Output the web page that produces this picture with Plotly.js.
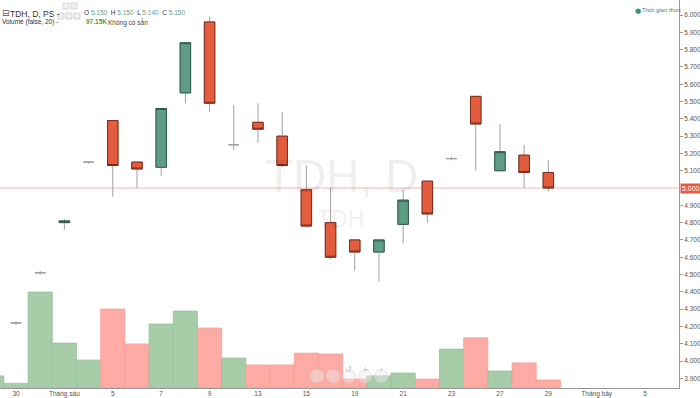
<!DOCTYPE html>
<html><head><meta charset="utf-8">
<script src="https://cdn.plot.ly/plotly-3.0.1.min.js"></script>
<style>html,body{margin:0;padding:0;background:#fff}#chart{width:700px;height:398px}</style>
</head><body><div id="chart"></div>
<script>
// ---- data ----
const tickPos  = [0, 2, 4, 6, 8, 10, 12, 14, 16, 18, 20, 22, 24, 26];
const tickText = ['30', 'Tháng sáu', '5', '7', '9', '13', '15', '19', '21', '23', '27', '29', 'Tháng bảy', '5'];
const barIndex = [-1, 0, 1, 2, 3, 4, 5, 6, 7, 8, 9, 10, 11, 12, 13, 14, 15, 16, 17, 18, 19, 20, 21, 22];
const openP  = [4.20, 4.22, 4.51, 4.80, 5.15, 5.39, 5.15, 5.12, 5.55, 5.96, 5.25, 5.38, 5.30, 4.99, 4.80, 4.70, 4.63, 4.79, 5.04, 5.17, 5.53, 5.10, 5.19, 5.09];
const highP  = [4.22, 4.23, 4.52, 4.82, 5.15, 5.39, 5.15, 5.46, 5.84, 5.99, 5.48, 5.49, 5.44, 5.13, 5.00, 4.70, 4.70, 4.99, 5.04, 5.18, 5.53, 5.37, 5.25, 5.16];
const lowP   = [4.18, 4.21, 4.50, 4.76, 5.14, 4.95, 5.00, 5.07, 5.49, 5.44, 5.22, 5.26, 5.12, 4.77, 4.59, 4.52, 4.46, 4.68, 4.80, 5.16, 5.10, 5.10, 5.00, 4.98];
const closeP = [4.21, 4.22, 4.51, 4.81, 5.15, 5.13, 5.11, 5.46, 5.84, 5.49, 5.25, 5.34, 5.13, 4.78, 4.60, 4.63, 4.70, 4.93, 4.85, 5.17, 5.37, 5.21, 5.09, 5.00];
const volumeK = [42, 16, 333, 156, 97.15, 274, 153, 222, 267, 208, 104, 80, 80, 121, 118, 31, 42, 52, 31, 135, 174, 59, 87, 28];
const hoverPos = 4; // array position of the bar shown in the legend

// ---- styles ----
const incFill = '#5f9c86', incBorder = '#2f5a4a';
const decFill = '#e35c3d', decBorder = '#7a2b1b';
const wickCol = '#a0a0a0';
const volInc = '#a6cca8', volDec = '#fdaba4';
const volIncLine = '#93bf96', volDecLine = '#f59b93';

const isUp = closeP.map((c, i) => c >= openP[i]);
const isDoji = closeP.map((c, i) => Math.abs(c - openP[i]) < 1e-9);
const bOpen  = openP.map((o, i) => isDoji[i] ? null : o);
const bClose = closeP.map((c, i) => isDoji[i] ? null : c);
const bodyHigh = openP.map((o, i) => isDoji[i] ? null : Math.max(o, closeP[i]));
const bodyLow  = openP.map((o, i) => isDoji[i] ? null : Math.min(o, closeP[i]));
const lastClose = closeP[closeP.length - 1];

const W = 679, H = 388;
const px = x => x / W, py = y => 1 - y / H;
const FONT = 'Liberation Sans, Arial, sans-serif';

const traces = [
  {
    type: 'bar', x: barIndex, y: volumeK, yaxis: 'y2',
    marker: {color: isUp.map(u => u ? volInc : volDec),
             line: {color: isUp.map(u => u ? volIncLine : volDecLine), width: 0.7}},
    hoverinfo: 'skip', showlegend: false
  },
  {
    type: 'candlestick', x: barIndex, open: openP, high: highP, low: lowP, close: closeP,
    increasing: {line: {color: wickCol, width: 1}, fillcolor: incFill},
    decreasing: {line: {color: wickCol, width: 1}, fillcolor: decFill},
    whiskerwidth: 0, hoverinfo: 'skip', showlegend: false
  },
  {
    type: 'candlestick', x: barIndex, open: bOpen, high: bodyHigh, low: bodyLow, close: bClose,
    increasing: {line: {color: incBorder, width: 1}, fillcolor: incFill},
    decreasing: {line: {color: decBorder, width: 1}, fillcolor: decFill},
    whiskerwidth: 0, hoverinfo: 'skip', showlegend: false
  }
];

const numC = '#6a9a8a';
const ohlcText = 'O <span style="color:' + numC + '">' + openP[hoverPos].toFixed(3) + '</span>  H <span style="color:' + numC + '">' + highP[hoverPos].toFixed(3) +
  '</span>  L <span style="color:' + numC + '">' + lowP[hoverPos].toFixed(3) + '</span>  C <span style="color:' + numC + '">' + closeP[hoverPos].toFixed(3) + '</span>';

const annotations = [
  {text: 'TDH, D', x: px(341), y: py(176), font: {size: 46, color: 'rgba(0,0,0,0.075)', family: FONT}},
  {text: 'TDH', x: px(340), y: py(219), font: {size: 23, color: 'rgba(0,0,0,0.075)', family: FONT}},
  {text: '⊟', x: px(0), y: py(6), xanchor: 'left', font: {size: 9, color: '#555', family: 'DejaVu Sans'}},
  {text: 'TDH, D, PS -', x: px(8), y: py(6.5), xanchor: 'left', font: {size: 8.5, color: '#333', family: FONT}},
  {text: ohlcText, x: px(82), y: py(6.5), xanchor: 'left', font: {size: 6.5, color: '#333', family: FONT}},
  {text: 'Volume (false, 20) -', x: px(0), y: py(16), xanchor: 'left', font: {size: 6.5, color: '#333', family: FONT}},
  {text: '<b>' + volumeK[hoverPos].toFixed(2) + 'K</b>', x: px(84), y: py(16), xanchor: 'left', font: {size: 6.5, color: '#3e9d5c', family: FONT}},
  {text: 'Không có sẵn', x: px(106), y: py(16), xanchor: 'left', font: {size: 6.5, color: '#444', family: FONT}},
  {text: '●', x: px(633), y: py(5), xanchor: 'left', font: {size: 7, color: '#3e8e74', family: 'DejaVu Sans'}},
  {text: 'Thời gian thực', x: px(640), y: py(5.5), xanchor: 'left', font: {size: 6, color: '#4f8070', family: FONT}},
  {text: lastClose.toFixed(3), x: 1, xshift: 1, xanchor: 'left', y: lastClose, yref: 'y',
   font: {size: 7, color: '#fff', family: FONT}, bgcolor: decFill, borderpad: 1}
].map(a => Object.assign({xref: 'paper', yref: 'paper', showarrow: false}, a));

const shapes = [
  {type: 'line', xref: 'paper', x0: 0, x1: 1, yref: 'y', y0: lastClose, y1: lastClose,
   line: {color: '#f3b6b9', width: 1}, layer: 'below'}
];
// small legend icon boxes
[[63, 6], [71, 6], [58, 16], [66, 16], [74, 16]].forEach(([x, y]) => {
  shapes.push({type: 'rect', xref: 'paper', yref: 'paper', x0: px(x), x1: px(x + 6), y0: py(y + 3), y1: py(y - 3),
    line: {color: '#d0d0d0', width: 0.8}, fillcolor: '#eeeeee'});
});
// navigation buttons
const navX = [317, 333, 349, 365, 381], navSym = ['‹', '−', '↺', '+', '›'];
navX.forEach((x, i) => {
  shapes.push({type: 'circle', xref: 'paper', yref: 'paper', x0: px(x - 6.5), x1: px(x + 6.5), y0: py(382.5), y1: py(369.5),
    line: {color: 'rgba(215,215,215,0.6)', width: 1}, fillcolor: 'rgba(235,235,235,0.45)'});
  annotations.push({text: navSym[i], xref: 'paper', yref: 'paper', x: px(x), y: py(376), showarrow: false,
    font: {size: 8, color: 'rgba(190,190,190,0.9)', family: 'DejaVu Sans'}});
});

// price axis ticks (label at the last price is replaced by the price box)
const yTicks = [];
for (let k = 39; k <= 61; k++) if (Math.abs(k / 10 - lastClose) > 1e-6) yTicks.push(k / 10);

const layout = {
  width: 700, height: 398,
  margin: {l: 0, r: 21, t: 0, b: 10},
  paper_bgcolor: '#fff', plot_bgcolor: '#fff',
  showlegend: false, dragmode: false,
  bargap: 0, boxgap: 0.38, boxmode: 'overlay',
  xaxis: {
    range: [-0.661, 27.4], tickvals: tickPos, ticktext: tickText,
    showgrid: false, zeroline: false, showline: true, linecolor: '#999', linewidth: 1,
    ticks: '', ticklabelstandoff: -1,
    tickfont: {size: 6.5, color: '#555', family: FONT},
    rangeslider: {visible: false}, fixedrange: true
  },
  yaxis: {
    side: 'right', range: [3.844, 6.087], tickvals: yTicks, tickformat: '.3f',
    showgrid: false, zeroline: false, showline: true, linecolor: '#999', linewidth: 1,
    ticks: 'outside', ticklen: 3, tickcolor: '#999',
    tickfont: {size: 6.5, color: '#555', family: FONT}, fixedrange: true
  },
  yaxis2: {overlaying: 'y', range: [0, 1346], visible: false, fixedrange: true},
  annotations: annotations, shapes: shapes
};

Plotly.newPlot('chart', traces, layout, {displayModeBar: false, staticPlot: true});
</script>
</body></html>
